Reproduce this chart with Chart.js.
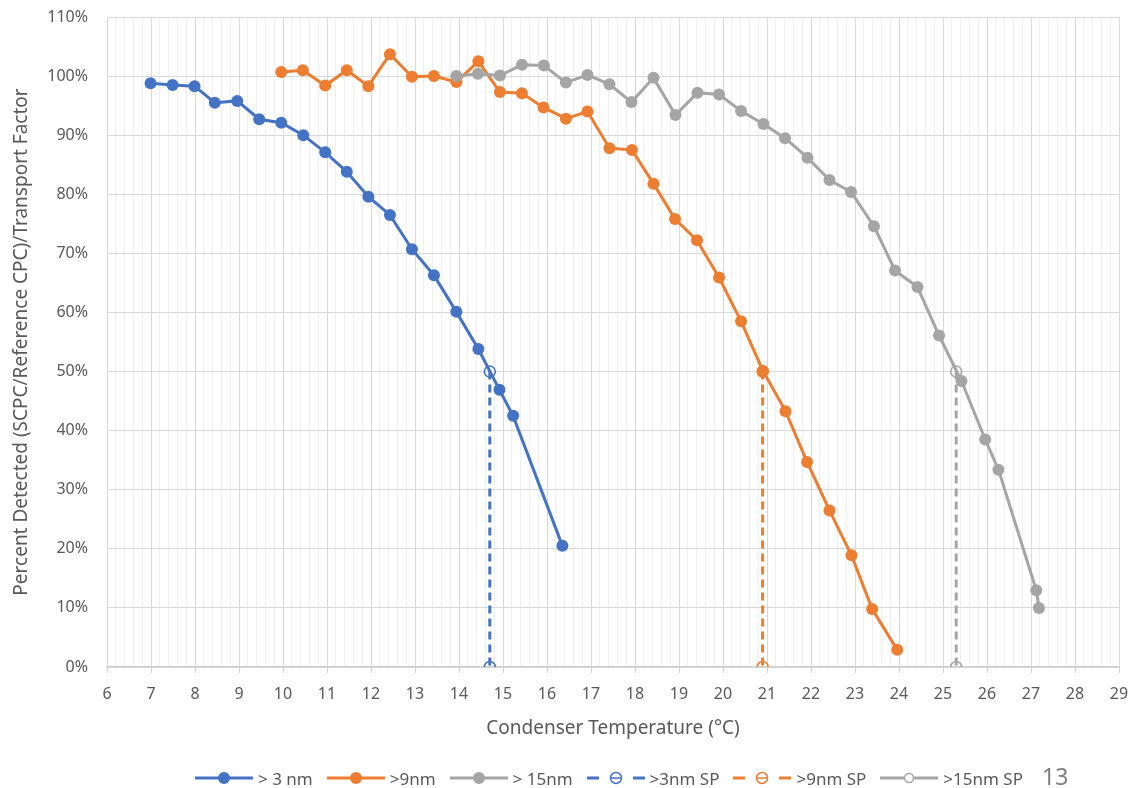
<!DOCTYPE html>
<html>
<head>
<meta charset="utf-8">
<script src="https://cdn.jsdelivr.net/npm/chart.js@4.4.1/dist/chart.umd.min.js"></script>
<style>
  html, body { margin: 0; padding: 0; background: #fff; }
  #wrap { position: relative; width: 1143px; height: 788px; }
  #legend { position: absolute; left: 195px; top: 767px; height: 22px; display: flex; align-items: center;
    font-family: 'Noto Sans', sans-serif; font-size: 17px; color: #595959; white-space: nowrap; }
  .lg-item { display: flex; align-items: center; margin-right: 14px; }
  .lg-item svg { margin-right: 5px; }
  #slide { position: absolute; left: 1042px; top: 760px; font-family: 'Noto Sans', sans-serif; font-size: 23px; color: #7f7f7f; }
</style>
</head>
<body>
<div id="wrap">
  <canvas id="c"></canvas>
  <div id="legend"></div>
  <div id="slide">13</div>
</div>
<script>
// >3 nm
const x3 = [6.99, 7.49, 7.99, 8.45, 8.96, 9.46, 9.96, 10.46, 10.96, 11.45, 11.94, 12.43, 12.93, 13.43, 13.94, 14.44, 14.92, 15.23, 16.35];
const y3 = [98.8, 98.5, 98.3, 95.5, 95.8, 92.7, 92.1, 90.0, 87.1, 83.8, 79.6, 76.5, 70.7, 66.3, 60.1, 53.8, 46.9, 42.5, 20.5];
// >9nm
const x9 = [9.96, 10.45, 10.96, 11.45, 11.94, 12.43, 12.93, 13.43, 13.94, 14.44, 14.93, 15.43, 15.92, 16.43, 16.92, 17.42, 17.93, 18.42, 18.91, 19.41, 19.91, 20.41, 20.91, 21.42, 21.91, 22.42, 22.92, 23.39, 23.96];
const y9 = [100.7, 101.0, 98.4, 101.0, 98.3, 103.7, 99.9, 100.0, 99.0, 102.5, 97.3, 97.1, 94.7, 92.8, 94.0, 87.8, 87.5, 81.8, 75.8, 72.2, 65.9, 58.5, 50.1, 43.3, 34.7, 26.5, 18.9, 9.8, 2.9];
// >15nm
const x15 = [13.94, 14.43, 14.93, 15.43, 15.93, 16.43, 16.92, 17.42, 17.92, 18.42, 18.92, 19.42, 19.91, 20.41, 20.92, 21.41, 21.92, 22.42, 22.91, 23.43, 23.91, 24.42, 24.91, 25.42, 25.96, 26.26, 27.12, 27.18];
const y15 = [100.0, 100.4, 100.1, 101.9, 101.8, 98.9, 100.2, 98.6, 95.6, 99.7, 93.4, 97.2, 96.9, 94.1, 91.9, 89.5, 86.2, 82.4, 80.4, 74.6, 67.1, 64.3, 56.1, 48.4, 38.5, 33.4, 13.0, 10.0];
// set points (SP)
const spX = [14.7, 20.9, 25.3];
const spY = [50, 0];
const xTicksMin = 6, xTicksMax = 29, yTicksMin = 0, yTicksMax = 110;

const blue = '#4472C4', orange = '#ED7D31', gray = '#A5A5A5';
const font = "'Noto Sans', sans-serif";
const pts = (xs, ys) => xs.map((x, i) => ({ x, y: ys[i] }));
const spPts = x => spY.map(y => ({ x, y }));

function mainSet(label, data, color, order) {
  return { label, data, borderColor: color, backgroundColor: color, pointBackgroundColor: color, pointBorderColor: color,
    borderWidth: 3, pointRadius: 6, pointBorderWidth: 0, showLine: true, order };
}
function spSet(label, x, color, order) {
  return { label, data: spPts(x), borderColor: color, borderDash: [8, 5], borderWidth: 3, showLine: true,
    pointRadius: 5.5, pointBorderWidth: 1.5, pointBorderColor: color, pointBackgroundColor: 'rgba(255,255,255,0)', order };
}

const isMajor = v => Math.abs(v - Math.round(v)) < 1e-6;

new Chart(document.getElementById('c'), {
  type: 'scatter',
  data: {
    datasets: [
      mainSet('> 3 nm', pts(x3, y3), blue, 6),
      mainSet('>9nm', pts(x9, y9), orange, 5),
      mainSet('> 15nm', pts(x15, y15), gray, 4),
      spSet('>3nm SP', spX[0], blue, 3),
      spSet('>9nm SP', spX[1], orange, 2),
      spSet('>15nm SP', spX[2], gray, 1),
    ]
  },
  options: {
    responsive: true, maintainAspectRatio: false, animation: false,
    layout: { padding: { left: 0, right: 24, top: 17, bottom: 48 } },
    plugins: { legend: { display: false }, tooltip: { enabled: false } },
    scales: {
      x: {
        type: 'linear', min: xTicksMin, max: xTicksMax,
        afterFit: s => { s.height = 73; },
        ticks: { stepSize: 0.2, autoSkip: false, maxRotation: 0, padding: 12, color: '#595959', font: { family: font, size: 16 },
          callback: v => isMajor(v) ? String(Math.round(v)) : '' },
        grid: { color: c => isMajor(c.tick.value) ? '#d9d9d9' : '#efefef', tickColor: c => isMajor(c.tick.value) ? '#d0d0d0' : 'rgba(0,0,0,0)', tickLength: 6, lineWidth: 1 },
        border: { color: '#cfcfcf', width: 1.5 },
        title: { display: true, text: 'Condenser Temperature (°C)', color: '#595959', font: { family: font, size: 19 }, padding: { top: 0, bottom: 0 } }
      },
      y: {
        min: yTicksMin, max: yTicksMax,
        afterFit: s => { s.width = 107; },
        ticks: { stepSize: 10, padding: 0, color: '#595959', font: { family: font, size: 16 }, callback: v => v + '%' },
        grid: { color: '#d9d9d9', drawTicks: true, tickLength: 19, tickColor: 'rgba(0,0,0,0)', lineWidth: 1 },
        border: { color: '#d9d9d9' },
        title: { display: true, text: 'Percent Detected (SCPC/Reference CPC)/Transport Factor', color: '#595959', font: { family: font, size: 19 }, padding: { top: 10, bottom: 0 } }
      }
    }
  }
});

// legend
const legendItems = [
  { text: '> 3 nm', color: blue, kind: 'solid' },
  { text: '>9nm', color: orange, kind: 'solid' },
  { text: '> 15nm', color: gray, kind: 'solid' },
  { text: '>3nm SP', color: blue, kind: 'dash' },
  { text: '>9nm SP', color: orange, kind: 'dash' },
  { text: '>15nm SP', color: gray, kind: 'open' },
];
const lg = document.getElementById('legend');
legendItems.forEach(it => {
  let g;
  if (it.kind === 'solid') {
    g = `<line x1="0" y1="8" x2="58" y2="8" stroke="${it.color}" stroke-width="3"/><circle cx="29" cy="8" r="6" fill="${it.color}"/>`;
  } else if (it.kind === 'dash') {
    g = `<line x1="0" y1="8" x2="12" y2="8" stroke="${it.color}" stroke-width="3"/>` +
        `<line x1="23" y1="8" x2="35" y2="8" stroke="${it.color}" stroke-width="1.5"/>` +
        `<line x1="46" y1="8" x2="58" y2="8" stroke="${it.color}" stroke-width="3"/>` +
        `<circle cx="29" cy="8" r="5.5" fill="none" stroke="${it.color}" stroke-width="1.5"/>`;
  } else {
    g = `<line x1="0" y1="8" x2="24.5" y2="8" stroke="${it.color}" stroke-width="3"/><line x1="33.5" y1="8" x2="58" y2="8" stroke="${it.color}" stroke-width="3"/>` +
        `<circle cx="29" cy="8" r="4.5" fill="none" stroke="${it.color}" stroke-width="1.5"/>`;
  }
  const d = document.createElement('div');
  d.className = 'lg-item';
  d.innerHTML = `<svg width="58" height="16">${g}</svg><span>${it.text}</span>`;
  lg.appendChild(d);
});
</script>
</body>
</html>
